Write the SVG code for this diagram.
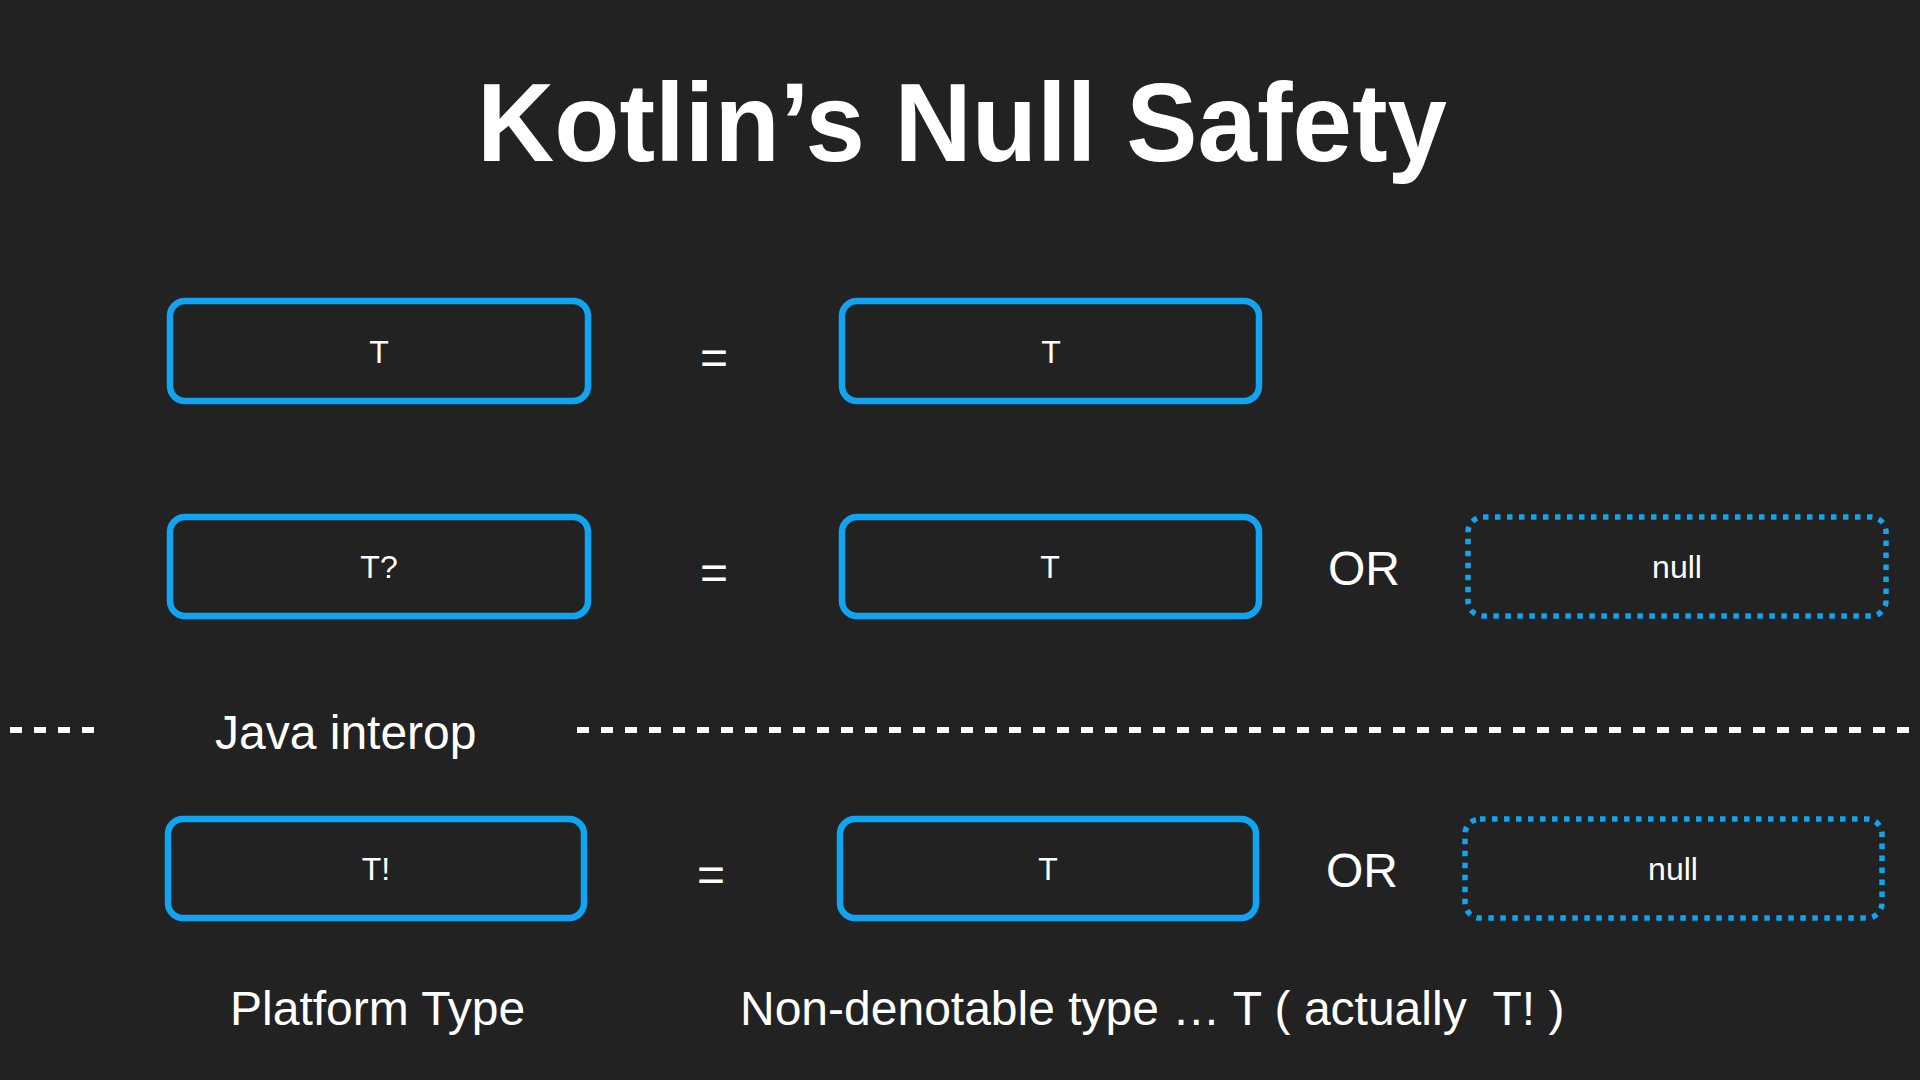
<svg xmlns="http://www.w3.org/2000/svg" width="1920" height="1080" viewBox="0 0 1920 1080">
<style>
  .bg { fill: #222222; }
  .box { fill: none; stroke: #11A4F0; stroke-width: 6.5; }
  .dot { fill: none; stroke: #11A4F0; stroke-width: 5.5; stroke-dasharray: 5.5 6.5; }
  .lbl { fill: #ffffff; font-family: "Liberation Sans", Arial, Helvetica, sans-serif; font-size: 32px; text-anchor: middle; }
  .big { fill: #ffffff; font-family: "Liberation Sans", Arial, Helvetica, sans-serif; font-size: 48px; white-space: pre; }
  .eq { fill: #ffffff; font-family: "Liberation Sans", Arial, Helvetica, sans-serif; font-size: 48px; text-anchor: middle; }
  .sep { stroke: #ffffff; stroke-width: 6; stroke-dasharray: 12 12; fill: none; }
  .title { fill: #ffffff; font-family: "Liberation Sans", Arial, Helvetica, sans-serif; font-size: 112px; font-weight: bold; text-anchor: middle; }
</style>
<rect class="bg" x="0" y="0" width="1920" height="1080"/>

<text class="title" x="962" y="161" textLength="970" lengthAdjust="spacingAndGlyphs">Kotlin’s Null Safety</text>

<!-- Row 1 -->
<g id="row1-left">
  <rect class="box" x="170" y="301" width="418" height="100" rx="15"/>
  <text class="lbl" x="379" y="363">T</text>
</g>
<text class="eq" x="714" y="374">=</text>
<g id="row1-right">
  <rect class="box" x="842" y="301" width="417" height="100" rx="15"/>
  <text class="lbl" x="1051" y="363">T</text>
</g>

<!-- Row 2 -->
<g id="row2-left">
  <rect class="box" x="170" y="517" width="418" height="99" rx="15"/>
  <text class="lbl" x="379" y="578">T?</text>
</g>
<text class="eq" x="714" y="589">=</text>
<g id="row2-right">
  <rect class="box" x="842" y="517" width="417" height="99" rx="15"/>
  <text class="lbl" x="1050" y="578">T</text>
</g>
<text class="big" x="1328" y="585">OR</text>
<g id="row2-null">
  <rect class="dot" x="1468" y="517" width="418" height="99" rx="15"/>
  <text class="lbl" x="1677" y="578">null</text>
</g>

<!-- Separator -->
<g id="separator">
  <line class="sep" x1="10" y1="730" x2="96" y2="730"/>
  <line class="sep" x1="577" y1="730" x2="1912" y2="730"/>
</g>
<text class="big" x="215" y="749">Java interop</text>

<!-- Row 3 -->
<g id="row3-left">
  <rect class="box" x="168" y="819" width="416" height="99" rx="15"/>
  <text class="lbl" x="376" y="880">T!</text>
</g>
<text class="eq" x="711" y="891">=</text>
<g id="row3-right">
  <rect class="box" x="840" y="819" width="416" height="99" rx="15"/>
  <text class="lbl" x="1048" y="880">T</text>
</g>
<text class="big" x="1326" y="887">OR</text>
<g id="row3-null">
  <rect class="dot" x="1465" y="819" width="417" height="99" rx="15"/>
  <text class="lbl" x="1673" y="880">null</text>
</g>

<text class="big" x="230" y="1025">Platform Type</text>
<text class="big" x="740" y="1025">Non-denotable type … T ( actually  T! )</text>
</svg>
